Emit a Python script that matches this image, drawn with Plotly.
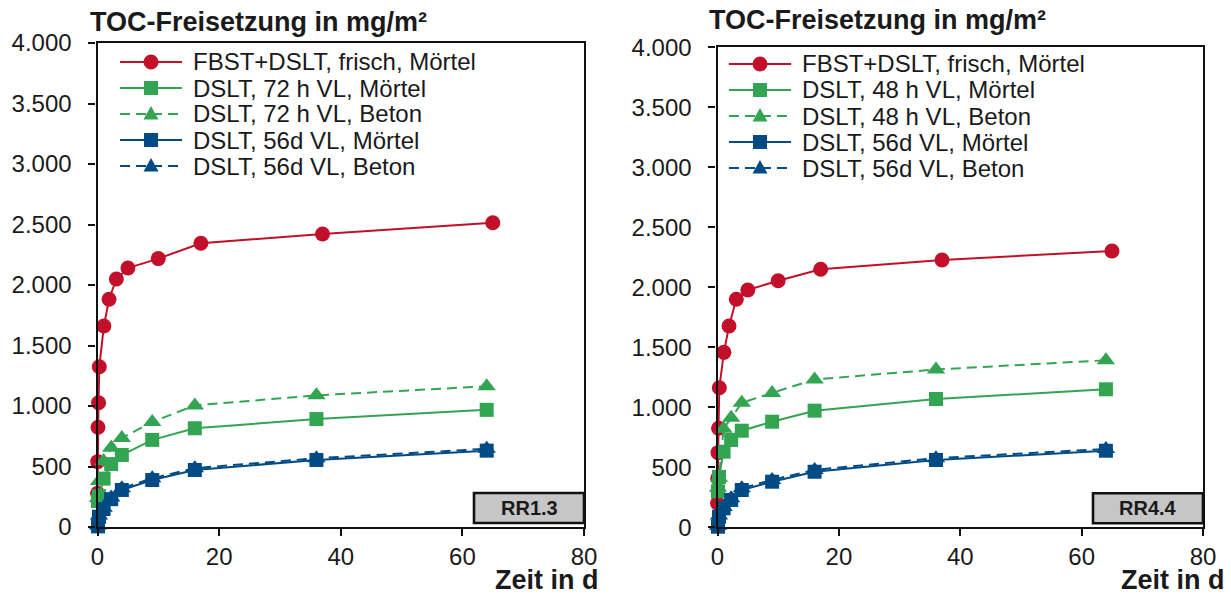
import plotly.graph_objects as go

W, H = 1231, 597

# ---- data -------------------------------------------------------------
# time axis (days)
t_fbst = [0.003, 0.04, 0.08, 0.17, 0.3, 1.05, 1.9, 3.1, 5, 10, 17, 37, 65]
t_dslt = [0.08, 0.25, 1, 2.25, 4, 9, 16, 36, 64]

# RR1.3 (left panel), TOC release in mg/m²
rr13_fbst_moertel = [278, 540, 824, 1027, 1325, 1661, 1882, 2050, 2140, 2218, 2345, 2421, 2515]
rr13_72h_moertel = [215, 255, 400, 520, 595, 720, 816, 892, 968]
rr13_72h_beton = [240, 380, 545, 655, 735, 868, 1005, 1088, 1163]
rr13_56d_moertel = [5, 85, 148, 230, 306, 388, 471, 554, 631]
rr13_56d_beton = [12, 95, 160, 243, 320, 402, 486, 568, 646]

# RR4.4 (right panel)
rr44_fbst_moertel = [200, 408, 622, 825, 1163, 1458, 1678, 1900, 1978, 2055, 2150, 2228, 2303]
rr44_48h_moertel = [300, 420, 630, 728, 805, 880, 972, 1069, 1150]
rr44_48h_beton = [330, 412, 822, 912, 1037, 1120, 1232, 1315, 1392]
rr44_56d_moertel = [5, 88, 158, 228, 311, 380, 463, 561, 638]
rr44_56d_beton = [12, 98, 170, 242, 325, 395, 478, 576, 653]

y_ticks = [0, 500, 1000, 1500, 2000, 2500, 3000, 3500, 4000]
y_ticktext = ["0", "500", "1.000", "1.500", "2.000", "2.500", "3.000", "3.500", "4.000"]
x_ticks = [0, 20, 40, 60, 80]
x_ticktext = ["0", "20", "40", "60", "80"]

labels_left = ["FBST+DSLT, frisch, Mörtel", "DSLT, 72 h VL, Mörtel", "DSLT, 72 h VL, Beton",
               "DSLT, 56d VL, Mörtel", "DSLT, 56d VL, Beton"]
labels_right = ["FBST+DSLT, frisch, Mörtel", "DSLT, 48 h VL, Mörtel", "DSLT, 48 h VL, Beton",
                "DSLT, 56d VL, Mörtel", "DSLT, 56d VL, Beton"]
panel_tags = ["RR1.3", "RR4.4"]
y_title = "TOC-Freisetzung in mg/m²"
x_title = "Zeit in d"

# ---- styling ----------------------------------------------------------
RED = "#C3102A"
GREEN = "#33A451"
BLUE = "#004B85"
FONT = "Liberation Sans, Arial, sans-serif"
TXT = "#1a1a1a"
DASH = "10px,6px"

styles = [
    dict(color=RED, symbol="circle", size=15, dash="solid"),
    dict(color=GREEN, symbol="square", size=14, dash="solid"),
    dict(color=GREEN, symbol="triangle-up", size=16, dash=DASH),
    dict(color=BLUE, symbol="square", size=14, dash="solid"),
    dict(color=BLUE, symbol="triangle-up", size=16, dash=DASH),
]


def px_x(p):
    return p / W


def px_y(p):
    return 1 - p / H


fig = go.Figure()

panels = [
    dict(xa="x", ya="y",
         series=[(t_fbst, rr13_fbst_moertel), (t_dslt, rr13_72h_moertel), (t_dslt, rr13_72h_beton),
                 (t_dslt, rr13_56d_beton), (t_dslt, rr13_56d_moertel)],
         order=[0, 1, 2, 4, 3]),
    dict(xa="x2", ya="y2",
         series=[(t_fbst, rr44_fbst_moertel), (t_dslt, rr44_48h_moertel), (t_dslt, rr44_48h_beton),
                 (t_dslt, rr44_56d_beton), (t_dslt, rr44_56d_moertel)],
         order=[0, 1, 2, 4, 3]),
]

for pnl in panels:
    for (xs, ys), si in zip(pnl["series"], pnl["order"]):
        st = styles[si]
        fig.add_trace(go.Scatter(
            x=xs, y=ys, mode="lines+markers", xaxis=pnl["xa"], yaxis=pnl["ya"],
            line=dict(color=st["color"], width=2, dash=st["dash"]),
            marker=dict(symbol=st["symbol"], size=st["size"], color=st["color"], line=dict(width=0)),
            cliponaxis=False, showlegend=False, hoverinfo="skip",
        ))

axis_common = dict(
    showline=True, linecolor="#111", linewidth=2.2, mirror=True,
    ticks="outside", ticklen=7, tickwidth=1.6, tickcolor="#111",
    showgrid=False, zeroline=False, automargin=False,
    tickfont=dict(family=FONT, size=24, color=TXT),
)

geo = [
    dict(x0=97.5, x1=584.0, y0=527.0, y1=43.0),
    dict(x0=717.5, x1=1203.0, y0=527.3, y1=47.3),
]

fig.update_layout(
    template="none",
    width=W, height=H, margin=dict(l=0, r=0, t=0, b=0, autoexpand=False),
    paper_bgcolor="white", plot_bgcolor="white",
    showlegend=False,
    xaxis=dict(domain=[px_x(geo[0]["x0"]), px_x(geo[0]["x1"])], range=[0, 80],
               tickvals=x_ticks, ticktext=x_ticktext, anchor="y", ticklabelstandoff=0, **axis_common),
    yaxis=dict(domain=[px_y(geo[0]["y0"]), px_y(geo[0]["y1"])], range=[0, 4000],
               tickvals=y_ticks, ticktext=y_ticktext, anchor="x", ticklabelstandoff=12, **axis_common),
    xaxis2=dict(domain=[px_x(geo[1]["x0"]), px_x(geo[1]["x1"])], range=[0, 80],
                tickvals=x_ticks, ticktext=x_ticktext, anchor="y2", ticklabelstandoff=0, **axis_common),
    yaxis2=dict(domain=[px_y(geo[1]["y0"]), px_y(geo[1]["y1"])], range=[0, 4000],
                tickvals=y_ticks, ticktext=y_ticktext, anchor="x2", ticklabelstandoff=12, **axis_common),
)

annotations = []
shapes = []

# axis titles
for xl, yc in [(88, 22), (707, 20)]:
    annotations.append(dict(text=f"<b>{y_title}</b>", xref="paper", yref="paper",
                            x=px_x(xl), y=px_y(yc), xanchor="left", yanchor="middle", showarrow=False,
                            font=dict(family=FONT, size=27, color=TXT)))
for xr in [601, 1227]:
    annotations.append(dict(text=f"<b>{x_title}</b>", xref="paper", yref="paper",
                            x=px_x(xr), y=px_y(597), xanchor="right", yanchor="bottom", showarrow=False,
                            font=dict(family=FONT, size=27, color=TXT)))

# panel tags (RR...)
for i, tag in enumerate(panel_tags):
    xd = "x domain" if i == 0 else "x2 domain"
    yd = "y domain" if i == 0 else "y2 domain"
    g = geo[i]
    wpx = g["x1"] - g["x0"]
    hpx = g["y0"] - g["y1"]
    bx0 = 1 - 110 / wpx
    by0 = 4 / hpx
    by1 = 34 / hpx
    shapes.append(dict(type="rect", xref=xd, yref=yd, x0=bx0, x1=1.0, y0=by0, y1=by1,
                       fillcolor="#C6C6C6", line=dict(color="#111", width=2.6), layer="above"))
    annotations.append(dict(text=f"<b>{tag}</b>", xref=xd, yref=yd, x=(bx0 + 1) / 2, y=(by0 + by1) / 2,
                            xanchor="center", yanchor="middle", showarrow=False,
                            font=dict(family=FONT, size=20, color=TXT)))

# legends
leg_geo = [
    dict(lx0=120, lx1=182, mx=151, tx=191, rows=[62, 88, 114, 140, 166], labels=labels_left),
    dict(lx0=729, lx1=791, mx=760, tx=800, rows=[64, 90, 116, 142, 168], labels=labels_right),
]
for lg in leg_geo:
    for st, ry, lab in zip(styles, lg["rows"], lg["labels"]):
        shapes.append(dict(type="line", xref="paper", yref="paper",
                           x0=px_x(lg["lx0"]), x1=px_x(lg["lx1"]), y0=px_y(ry), y1=px_y(ry),
                           line=dict(color=st["color"], width=2, dash=st["dash"])))
        common = dict(xref="paper", yref="paper", xsizemode="pixel", ysizemode="pixel",
                      xanchor=px_x(lg["mx"]), yanchor=px_y(ry), fillcolor=st["color"],
                      line=dict(width=0), layer="above")
        if st["symbol"] == "circle":
            shapes.append(dict(type="circle", x0=-7.5, x1=7.5, y0=-7.5, y1=7.5, **common))
        elif st["symbol"] == "square":
            shapes.append(dict(type="rect", x0=-7, x1=7, y0=-7, y1=7, **common))
        else:
            shapes.append(dict(type="path", path="M-7.5,-5.5 L7.5,-5.5 L0,8 Z", **common))
        annotations.append(dict(text=lab, xref="paper", yref="paper", x=px_x(lg["tx"]), y=px_y(ry),
                                xanchor="left", yanchor="middle", showarrow=False,
                                font=dict(family=FONT, size=24, color=TXT)))

fig.update_layout(annotations=annotations, shapes=shapes)
fig.write_html("out.html")
